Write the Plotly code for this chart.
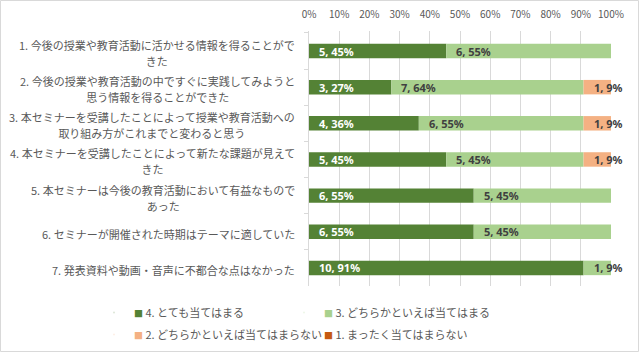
import plotly.graph_objects as go

questions = [
    "1. 今後の授業や教育活動に活かせる情報を得ることがで<br>きた",
    "2. 今後の授業や教育活動の中ですぐに実践してみようと<br>思う情報を得ることができた",
    "3. 本セミナーを受講したことによって授業や教育活動への<br>取り組み方がこれまでと変わると思う",
    "4. 本セミナーを受講したことによって新たな課題が見えて<br>きた",
    "5. 本セミナーは今後の教育活動において有益なもので<br>あった",
    "6. セミナーが開催された時期はテーマに適していた",
    "7. 発表資料や動画・音声に不都合な点はなかった",
]
series_names = ["4. とても当てはまる", "3. どちらかといえば当てはまる",
                "2. どちらかといえば当てはまらない", "1. まったく当てはまらない"]
counts_4 = [5, 3, 4, 5, 6, 6, 10]
counts_3 = [6, 7, 6, 5, 5, 5, 1]
counts_2 = [0, 1, 1, 1, 0, 0, 0]
counts_1 = [0, 0, 0, 0, 0, 0, 0]
pct_4 = [45, 27, 36, 45, 55, 55, 91]
pct_3 = [55, 64, 55, 45, 45, 45, 9]
pct_2 = [0, 9, 9, 9, 0, 0, 0]
pct_1 = [0, 0, 0, 0, 0, 0, 0]
tick_vals = [0, 10, 20, 30, 40, 50, 60, 70, 80, 90, 100]
tick_text = ["0%", "10%", "20%", "30%", "40%", "50%", "60%", "70%", "80%", "90%", "100%"]

colors = ["#548235", "#A9D18E", "#F4B183", "#C55A11"]
label_colors = ["#FFFFFF", "#404040", "#404040", "#404040"]
counts = [counts_4, counts_3, counts_2, counts_1]
pcts = [pct_4, pct_3, pct_2, pct_1]

W, H = 639, 352
ML, MR, MT, MB = 309, 28, 31, 66
PW, PH = W - ML - MR, H - MT - MB

totals = [sum(c[i] for c in counts) for i in range(len(questions))]
cats = [f"q{i+1}" for i in range(len(questions))]

fig = go.Figure()
annotations = []
starts = [0.0] * len(questions)
for s in range(4):
    xs = [counts[s][i] / totals[i] * 100 for i in range(len(questions))]
    fig.add_trace(go.Bar(
        y=cats, x=xs, base=starts[:], orientation="h",
        marker=dict(color=colors[s], line=dict(width=0)),
        width=0.4, showlegend=False, hoverinfo="skip",
    ))
    for i in range(len(questions)):
        if counts[s][i] > 0:
            annotations.append(dict(
                x=starts[i], y=cats[i], xref="x", yref="y",
                text=f"<b>{counts[s][i]}, {pcts[s][i]}%</b>",
                showarrow=False, xanchor="left", yanchor="middle", xshift=8,
                font=dict(family="Noto Sans", size=11, color=label_colors[s]),
            ))
    starts = [starts[i] + xs[i] for i in range(len(questions))]

# legend entries: two columns built as two vertical legends (row-major order 4,3 / 2,1)
legend_of = ["legend", "legend2", "legend", "legend2"]
for s in range(4):
    fig.add_trace(go.Scatter(
        x=[None], y=[None], mode="markers",
        name=f'<span style="color:{colors[s]};font-size:9px">■</span> {series_names[s]}',
        marker=dict(size=1, opacity=0, color=colors[s]),
        legend=legend_of[s], legendgroup=f"g{s}",
    ))

for i, q in enumerate(questions):
    lines = q.split("<br>")
    txt = "<br>".join(f'<span style="font-size:11px">{ln}</span>' for ln in lines)
    annotations.append(dict(
        x=0, y=cats[i], xref="paper", yref="y", text=txt, showarrow=False,
        xanchor="right", yanchor="middle", align="center", xshift=-12, yshift=-2,
        font=dict(family="Noto Sans CJK JP", size=12.3, color="#595959"),
    ))

leg_common = dict(orientation="v", xref="container", yref="container",
                  xanchor="left", yanchor="top", itemwidth=30,
                  traceorder="grouped", tracegroupgap=3,
                  bgcolor="rgba(0,0,0,0)",
                  font=dict(family="Noto Sans CJK JP", size=11, color="#595959"))

fig.update_layout(
    width=W, height=H,
    margin=dict(l=ML, r=MR, t=MT, b=MB, autoexpand=False),
    barmode="overlay",
    plot_bgcolor="white", paper_bgcolor="white",
    font=dict(family="Noto Sans CJK JP", size=11, color="#595959"),
    annotations=annotations,
    xaxis=dict(range=[0, 100], side="top", tickvals=tick_vals, ticktext=tick_text,
               showgrid=True, gridcolor="#D9D9D9", gridwidth=1, zeroline=False,
               ticks="outside", ticklen=8, tickcolor="rgba(0,0,0,0)", showline=False,
               tickangle=0, automargin=False,
               tickfont=dict(family="Noto Sans CJK JP", size=10, color="#595959")),
    yaxis=dict(categoryorder="array", categoryarray=cats, autorange="reversed",
               showticklabels=False, ticks="outside", tickson="boundaries",
               ticklen=4, tickcolor="#D9D9D9", showline=True, linecolor="#D9D9D9",
               showgrid=False, zeroline=False, automargin=False),
    legend=dict(x=94 / W, y=1 - 298 / H, **leg_common),
    legend2=dict(x=284 / W, y=1 - 298 / H, **leg_common),
    shapes=[dict(type="rect", xref="paper", yref="paper",
                 x0=(0.5 - ML) / PW, x1=(W - 0.5 - ML) / PW,
                 y0=-(MB - 0.5) / PH, y1=1 + (MT - 0.5) / PH,
                 line=dict(color="#D9D9D9", width=1), layer="below")],
)

fig.write_html("out.html")
